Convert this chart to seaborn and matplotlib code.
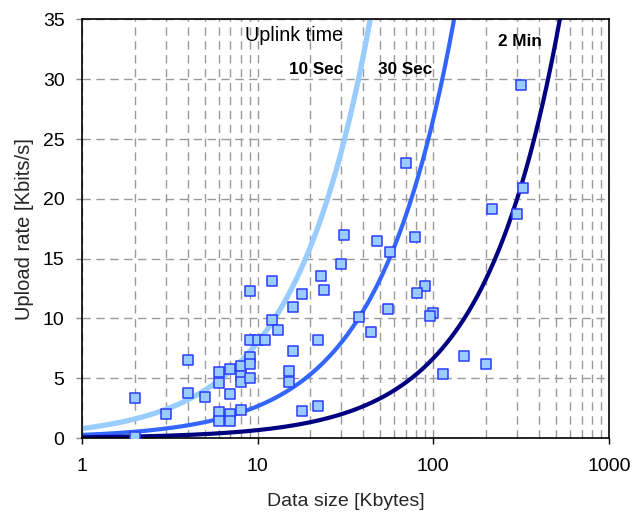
import numpy as np
import pandas as pd
import matplotlib
matplotlib.use("Agg")
import matplotlib.pyplot as plt
import seaborn as sns
from matplotlib.ticker import LogLocator, FixedLocator, NullFormatter

sns.set_theme(style="white")
plt.rcParams['font.family'] = ['Liberation Sans', 'DejaVu Sans']

# Measured samples
size_kb = [2, 2, 3, 4, 4, 5, 6, 6, 6, 6, 7, 7, 7, 7, 8, 8, 8, 8,
           9, 9, 9, 9, 9, 10, 11, 12, 12, 13, 16, 16, 15, 15, 18, 18,
           23, 24, 22, 22, 30, 31, 215, 300, 48, 79, 57, 90, 81, 38, 55,
           100, 96, 44, 150, 200, 114, 315, 70, 325]
rate_kbps = [3.35, 0.1, 2.0, 6.55, 3.75, 3.4, 5.5, 4.6, 2.15, 1.4, 5.75, 3.65, 2.05, 1.4,
             6.05, 5.2, 4.7, 2.35, 12.3, 8.2, 6.75, 6.2, 5.05, 8.2, 8.2, 13.1, 9.9, 9.0,
             10.95, 7.3, 5.65, 4.65, 12.05, 2.25, 13.55, 12.35, 8.2, 2.7, 14.55, 17.0,
             19.15, 18.75, 16.45, 16.85, 15.55, 12.75, 12.15, 10.15, 10.8, 10.5, 10.2,
             8.9, 6.85, 6.2, 5.4, 29.55, 23.0, 20.9]

# Uplink time curves: rate [Kbit/s] = 8 * size [KB] / time [s]
uplink_times_s = [10, 30, 120]
uplink_labels = ["10 Sec", "30 Sec", "2 Min"]
uplink_colors = ["#99CCFF", "#3366FF", "#000080"]
uplink_widths = [3.8, 3.0, 3.0]

x_ticks = [1, 10, 100, 1000]
y_ticks = [0, 5, 10, 15, 20, 25, 30, 35]

fig = plt.figure(figsize=(6.35, 5.13), dpi=100)
ax = fig.add_axes([0.129, 0.146, 0.830, 0.816])

xs = np.logspace(0, 3, 600)
for T, lab, c, lw in zip(uplink_times_s, uplink_labels, uplink_colors, uplink_widths):
    df = pd.DataFrame({"size": xs, "rate": 8 * xs / T})
    sns.lineplot(data=df, x="size", y="rate", ax=ax, color=c, linewidth=lw, zorder=2)

pts = pd.DataFrame({"size": size_kb, "rate": rate_kbps})
sns.scatterplot(data=pts, x="size", y="rate", ax=ax, marker="s", s=52,
                color="#99CCFF", edgecolor="#2A3CFF", linewidth=1.1, zorder=3)

ax.set_xscale("log")
ax.set_xlim(1, 1000)
ax.set_ylim(0, 35)
ax.xaxis.set_major_locator(FixedLocator(x_ticks))
ax.set_xticklabels([str(v) for v in x_ticks])
ax.xaxis.set_minor_locator(LogLocator(base=10, subs=np.arange(2, 10)))
ax.xaxis.set_minor_formatter(NullFormatter())
ax.set_yticks(y_ticks)
ax.set_yticklabels([str(v) for v in y_ticks])

ax.grid(True, which="major", axis="both", color="#9a9a9a", linestyle=(0, (6, 4)), linewidth=1.0)
ax.grid(True, which="minor", axis="x", color="#9a9a9a", linestyle=(0, (6, 4)), linewidth=1.0)
ax.set_axisbelow(True)

for sp in ax.spines.values():
    sp.set_color("black")
    sp.set_linewidth(1.2)

ax.tick_params(axis="y", which="major", labelsize=14, colors="black",
               length=4.5, width=1, direction="out", left=True, pad=8)
ax.tick_params(axis="y", which="major", color="#888888")
ax.tick_params(axis="x", which="major", labelsize=14, colors="black",
               length=4.5, width=1, direction="out", bottom=True, pad=10)
ax.tick_params(axis="x", which="minor", length=0)
ax.set_xlabel("Data size [Kbytes]", fontsize=14, labelpad=13)
ax.set_ylabel("Upload rate [Kbits/s]", fontsize=14.5, labelpad=6)

ax.text(30.6, 33.7, "Uplink time", ha="right", va="center", fontsize=14.2, color="black")
ax.text(30.8, 30.8, "10 Sec", ha="right", va="center", fontsize=12.3, fontweight="bold", color="black")
ax.text(69.4, 30.8, "30 Sec", ha="center", va="center", fontsize=12.3, fontweight="bold", color="black")
ax.text(313, 33.2, "2 Min", ha="center", va="center", fontsize=12.3, fontweight="bold", color="black")

fig.savefig("out.png", dpi=100)
